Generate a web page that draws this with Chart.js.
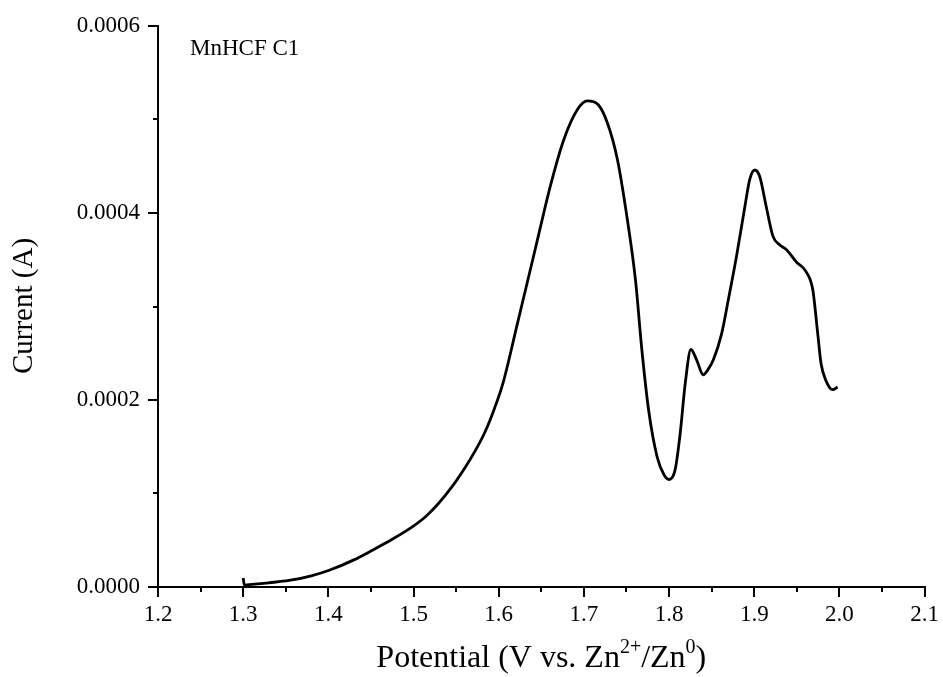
<!DOCTYPE html>
<html>
<head>
<meta charset="utf-8">
<script src="https://cdn.jsdelivr.net/npm/chart.js@4"></script>
<style>
  html, body { margin: 0; padding: 0; background: #fff; }
  #wrap { width: 943px; height: 677px; }
</style>
</head>
<body>
<div id="wrap"><canvas id="cv"></canvas></div>
<script>
// linear sweep, potential in V and current in A
const potential = [
    1.300, 1.3015, 1.304, 1.330, 1.354, 1.380, 1.401, 1.430, 1.451, 1.475,
    1.498, 1.515, 1.529, 1.545, 1.560, 1.572, 1.584, 1.595, 1.605, 1.622,
    1.642, 1.6615, 1.677, 1.6926, 1.704, 1.7166, 1.7277, 1.7394, 1.751, 1.7606,
    1.768, 1.776, 1.786, 1.794, 1.800, 1.807, 1.813, 1.819, 1.8256, 1.8323,
    1.840, 1.846, 1.852, 1.8617, 1.8695, 1.879, 1.889, 1.8947, 1.9006, 1.9064,
    1.914, 1.922, 1.9297, 1.9376, 1.949, 1.961, 1.9687, 1.9745, 1.9784, 1.984,
    1.992, 1.9978
];
const current = [
    0.0000095, 0.0000020, 0.0000022, 0.0000045, 0.0000070, 0.0000120, 0.0000179, 0.0000290, 0.0000390, 0.0000510,
    0.0000640, 0.0000760, 0.0000890, 0.0001070, 0.0001270, 0.0001450, 0.0001660, 0.0001910, 0.0002180, 0.0002820,
    0.0003580, 0.0004320, 0.0004800, 0.0005110, 0.0005200, 0.0005160, 0.0004960, 0.0004570, 0.0003930, 0.0003280,
    0.0002540, 0.0001890, 0.0001390, 0.0001200, 0.0001150, 0.0001250, 0.0001640, 0.0002180, 0.0002540, 0.0002430,
    0.0002270, 0.0002330, 0.0002430, 0.0002710, 0.0003070, 0.0003530, 0.0004070, 0.0004360, 0.0004460, 0.0004390,
    0.0004070, 0.0003750, 0.0003660, 0.0003610, 0.0003480, 0.0003370, 0.0003180, 0.0002710, 0.0002390, 0.0002210,
    0.0002110, 0.0002140
];

const xMinorTicks = [1.25, 1.35, 1.45, 1.55, 1.65, 1.75, 1.85, 1.95, 2.05];
const yMinorTicks = [0.0001, 0.0003, 0.0005];
const sampleLabel = 'MnHCF C1';
const yTitle = 'Current (A)';

const SERIF = '"Liberation Serif", "Times New Roman", serif';

// minor ticks, axis titles and the sample tag
const extras = {
    id: 'extras',
    afterDraw(chart) {
        const ctx = chart.ctx;
        const xs = chart.scales.x, ys = chart.scales.y;
        const area = chart.chartArea;
        ctx.save();
        ctx.strokeStyle = '#000';
        ctx.lineWidth = 2;
        ctx.beginPath();
        xMinorTicks.forEach(v => {
            const px = Math.round(xs.getPixelForValue(v));
            ctx.moveTo(px, area.bottom);
            ctx.lineTo(px, area.bottom + 5);
        });
        yMinorTicks.forEach(v => {
            const py = Math.round(ys.getPixelForValue(v));
            ctx.moveTo(area.left, py);
            ctx.lineTo(area.left - 5, py);
        });
        ctx.stroke();

        ctx.fillStyle = '#000';
        ctx.textBaseline = 'alphabetic';

        // sample tag
        ctx.font = '23px ' + SERIF;
        ctx.textAlign = 'left';
        ctx.fillText(sampleLabel, 190, 55);

        // y title
        ctx.save();
        ctx.translate(32, 306);
        ctx.rotate(-Math.PI / 2);
        ctx.textAlign = 'center';
        ctx.font = '29px ' + SERIF;
        ctx.fillText(yTitle, 0, 0);
        ctx.restore();

        // x title with superscripts
        const parts = [
            ['Potential (V vs. Zn', false],
            ['2+', true],
            ['/Zn', false],
            ['0', true],
            [')', false]
        ];
        const big = '32px ' + SERIF, small = '20px ' + SERIF;
        let total = 0;
        parts.forEach(([t, sup]) => {
            ctx.font = sup ? small : big;
            total += ctx.measureText(t).width;
        });
        let x = (area.left + area.right) / 2 - total / 2;
        const base = 667;
        ctx.textAlign = 'left';
        parts.forEach(([t, sup]) => {
            ctx.font = sup ? small : big;
            ctx.fillText(t, x, sup ? base - 14 : base);
            x += ctx.measureText(t).width;
        });
        ctx.restore();
    }
};

new Chart(document.getElementById('cv'), {
    type: 'line',
    data: {
        datasets: [{
            data: potential.map((v, i) => ({ x: v, y: current[i] })),
            borderColor: '#000',
            borderWidth: 2.8,
            pointRadius: 0,
            cubicInterpolationMode: 'monotone',
            fill: false
        }]
    },
    options: {
        responsive: true,
        maintainAspectRatio: false,
        animation: false,
        layout: { padding: { top: 26, right: 14, left: 0, bottom: 0 } },
        plugins: {
            legend: { display: false },
            tooltip: { enabled: false }
        },
        scales: {
            x: {
                type: 'linear',
                min: 1.2,
                max: 2.1,
                afterFit: s => { s.height = 90; },
                border: { display: true, color: '#000', width: 2 },
                grid: { display: true, drawOnChartArea: false, drawTicks: true, tickLength: 10, color: '#000', lineWidth: 2 },
                ticks: {
                    stepSize: 0.1,
                    color: '#000',
                    padding: 4,
                    maxRotation: 0,
                    font: { family: SERIF, size: 23 },
                    callback: v => v.toFixed(1)
                }
            },
            y: {
                min: 0,
                max: 0.0006,
                afterFit: s => { s.width = 158; },
                border: { display: true, color: '#000', width: 2 },
                grid: { display: true, drawOnChartArea: false, drawTicks: true, tickLength: 10, color: '#000', lineWidth: 2 },
                ticks: {
                    stepSize: 0.0002,
                    color: '#000',
                    padding: 8,
                    font: { family: SERIF, size: 23 },
                    callback: v => v.toFixed(4)
                }
            }
        }
    },
    plugins: [extras]
});
</script>
</body>
</html>
